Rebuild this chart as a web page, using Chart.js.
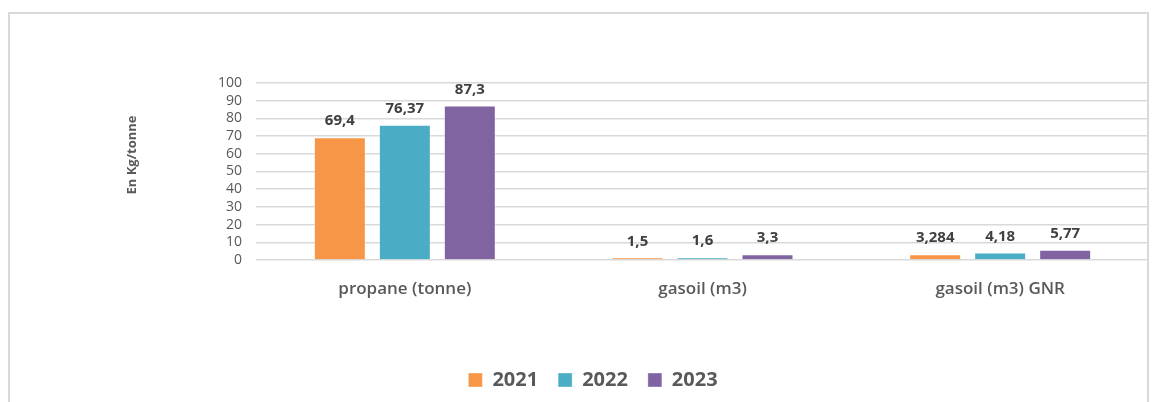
<!DOCTYPE html>
<html>
<head>
<meta charset="utf-8">
<script src="https://cdn.jsdelivr.net/npm/chart.js@4"></script>
<style>
  html, body { margin: 0; padding: 0; background: #fff; overflow: hidden; }
  #wrap { position: relative; width: 1155px; height: 402px; }
  #frame {
    position: absolute; left: 8px; top: 12px; width: 1137px; height: 500px;
    border: 2px solid #d9d9d9; box-sizing: content-box;
  }
  #chart { position: absolute; left: 0; top: 0; }
</style>
</head>
<body>
<div id="wrap">
  <div id="frame"></div>
  <canvas id="chart" width="1155" height="400"></canvas>
</div>
<script>
// Consumption ratios per fuel type, one series per year
const categories = ['propane (tonne)', 'gasoil (m3)', 'gasoil (m3) GNR'];
const years = ['2021', '2022', '2023'];
const values2021 = [69.4, 1.5, 3.284];
const values2022 = [76.37, 1.6, 4.18];
const values2023 = [87.3, 3.3, 5.77];
const yTicks = [0, 10, 20, 30, 40, 50, 60, 70, 80, 90, 100];
const yTitle = 'En Kg/tonne';

const colors = ['#F79646', '#4BACC6', '#8064A2'];
const FONT = '"Open Sans", sans-serif';

// French decimal comma for the value labels
function fmt(v) {
  return String(v).replace('.', ',');
}

// Value label above each bar
const valueLabels = {
  id: 'valueLabels',
  afterDatasetsDraw(chart) {
    const ctx = chart.ctx;
    ctx.save();
    ctx.font = 'bold 15px ' + FONT;
    ctx.fillStyle = '#404040';
    ctx.textAlign = 'center';
    ctx.textBaseline = 'middle';
    chart.data.datasets.forEach((ds, i) => {
      chart.getDatasetMeta(i).data.forEach((bar, j) => {
        ctx.fillText(fmt(ds.data[j]), bar.x, bar.y - 16);
      });
    });
    ctx.restore();
  }
};

// Rotated unit title to the left of the value axis
const unitTitle = {
  id: 'unitTitle',
  afterDraw(chart) {
    const ctx = chart.ctx;
    ctx.save();
    ctx.translate(132, 155);
    ctx.rotate(-Math.PI / 2);
    ctx.font = 'bold 13px ' + FONT;
    ctx.fillStyle = '#595959';
    ctx.textAlign = 'center';
    ctx.textBaseline = 'middle';
    ctx.fillText(yTitle, 0, 0);
    ctx.restore();
  }
};

const series = [values2021, values2022, values2023];

new Chart(document.getElementById('chart').getContext('2d'), {
  type: 'bar',
  data: {
    labels: categories,
    datasets: years.map((y, i) => ({
      label: y,
      data: series[i],
      backgroundColor: colors[i],
      borderColor: 'rgba(255,255,255,0.35)',
      borderWidth: 1,
      categoryPercentage: 0.655,
      barPercentage: 0.8
    }))
  },
  options: {
    responsive: false,
    animation: false,
    layout: { padding: { top: 83, right: 6, bottom: 0, left: 37 } },
    plugins: {
      tooltip: { enabled: false },
      legend: {
        position: 'bottom',
        labels: {
          boxWidth: 14,
          boxHeight: 14,
          padding: 20,
          color: '#595959',
          font: { family: FONT, size: 20, weight: 'bold' }
        }
      }
    },
    scales: {
      x: {
        grid: { display: false },
        border: { display: false },
        ticks: {
          color: '#595959',
          padding: 11,
          font: { family: FONT, size: 17, weight: '600' }
        },
        afterFit(scale) { scale.height = 90; }
      },
      y: {
        min: 0,
        max: 100,
        afterBuildTicks(scale) { scale.ticks = yTicks.map(v => ({ value: v })); },
        grid: { color: '#d9d9d9', lineWidth: 1.5, drawTicks: false },
        border: { display: false },
        ticks: {
          autoSkip: false,
          color: '#595959',
          padding: 14,
          font: { family: FONT, size: 14 }
        },
        afterFit(scale) { scale.width = 219; }
      }
    }
  },
  plugins: [valueLabels, unitTitle]
});
</script>
</body>
</html>
